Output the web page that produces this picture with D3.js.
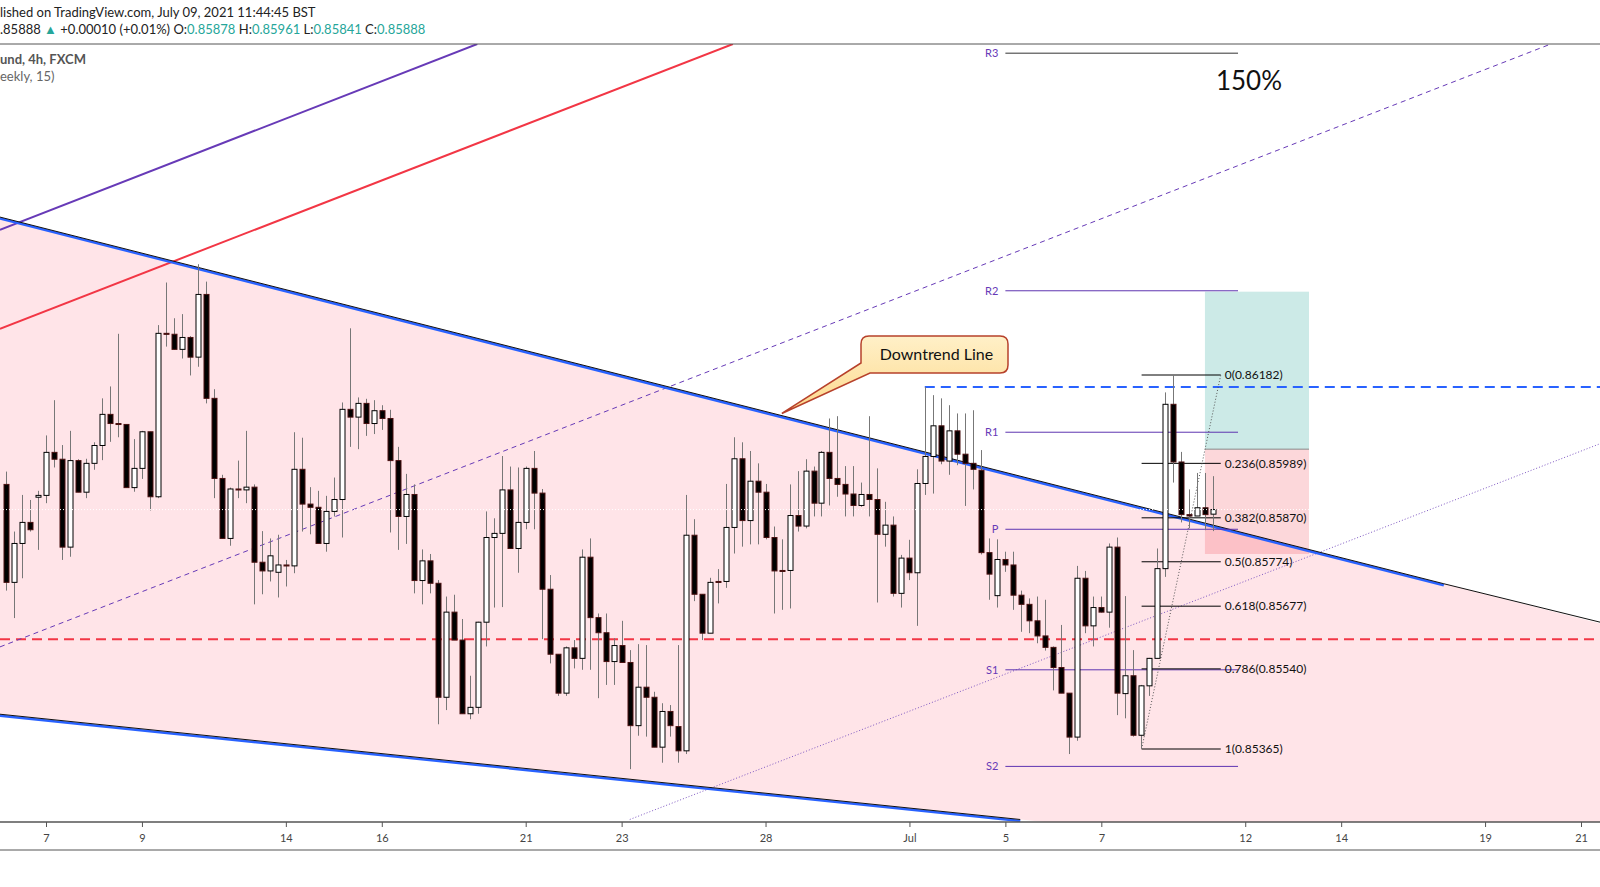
<!DOCTYPE html>
<html>
<head>
<meta charset="utf-8">
<script src="https://cdn.jsdelivr.net/npm/d3@7"></script>
<style>
  html, body { margin: 0; padding: 0; background: #fff; }
  svg { display: block; font-family: Lato, "Liberation Sans", sans-serif; }
</style>
</head>
<body>
<div id="chart"></div>
<script>
// 4h bars, [open, high, low, close]; first 5 bars are Jun 4 (Fri)
const bars = [
  [.85943,.85971,.85711,.85729],[.85729,.85840,.85651,.85814],[.85814,.85920,.85738,.85860],[.85860,.85909,.85840,.85844],
  [.85915,.85929,.85800,.85919],[.85919,.86050,.85902,.86013],[.86013,.86127,.85980,.85998],[.85998,.86029,.85778,.85806],
  [.85806,.86060,.85785,.85995],[.85995,.85998,.85926,.85926],[.85926,.85999,.85913,.85989],[.85989,.86035,.85975,.86028],
  [.86028,.86131,.85996,.86096],[.86096,.86157,.86036,.86076],[.86076,.86272,.86046,.86074],[.86074,.86074,.85936,.85936],
  [.85936,.86042,.85927,.85978],[.85978,.86060,.85955,.86058],[.86058,.86058,.85886,.85916],[.85916,.86291,.85913,.86273],
  [.86273,.86384,.86244,.86271],[.86271,.86306,.86237,.86238],[.86238,.86315,.86218,.86264],[.86264,.86267,.86181,.86221],
  [.86221,.86424,.86200,.86358],[.86358,.86386,.86120,.86131],[.86131,.86151,.85913,.85956],[.85956,.85964,.85825,.85825],
  [.85825,.85936,.85809,.85933],[.85933,.85995,.85913,.85931],[.85931,.86060,.85902,.85937],[.85937,.85943,.85681,.85773],
  [.85773,.85841,.85703,.85754],[.85754,.85825,.85731,.85787],[.85751,.85833,.85696,.85767],[.85767,.85778,.85720,.85765],
  [.85765,.86057,.85749,.85976],[.85976,.86045,.85840,.85900],[.85900,.85937,.85834,.85893],[.85893,.85929,.85814,.85814],
  [.85814,.85918,.85796,.85884],[.85884,.85958,.85873,.85910],[.85910,.86122,.85827,.86107],[.86107,.86284,.86025,.86090],
  [.86090,.86133,.86020,.86120],[.86120,.86130,.86049,.86076],[.86076,.86127,.86053,.86104],[.86104,.86116,.86062,.86087],
  [.86087,.86106,.85838,.85995],[.85995,.86025,.85800,.85873],[.85873,.85966,.85813,.85921],[.85921,.85943,.85705,.85733],
  [.85733,.85801,.85681,.85776],[.85776,.85791,.85705,.85727],[.85727,.85734,.85419,.85478],[.85478,.85698,.85450,.85664],
  [.85664,.85702,.85603,.85603],[.85603,.85649,.85442,.85442],[.85442,.85525,.85430,.85456],[.85456,.85643,.85442,.85642],
  [.85642,.85884,.85589,.85827],[.85827,.85869,.85674,.85836],[.85836,.86005,.85675,.85931],[.85931,.85982,.85803,.85803],
  [.85803,.85980,.85750,.85860],[.85860,.85982,.85845,.85978],[.85978,.86016,.85845,.85924],[.85924,.85933,.85605,.85714],
  [.85714,.85745,.85552,.85572],[.85572,.85572,.85481,.85487],[.85487,.85589,.85481,.85586],[.85586,.85603,.85541,.85563],
  [.85563,.85801,.85538,.85784],[.85784,.85825,.85538,.85652],[.85652,.85661,.85476,.85619],[.85619,.85661,.85505,.85556],
  [.85556,.85607,.85505,.85591],[.85591,.85645,.85554,.85554],[.85554,.85581,.85321,.85416],[.85416,.85594,.85394,.85500],
  [.85500,.85592,.85392,.85478],[.85478,.85490,.85369,.85369],[.85369,.85465,.85335,.85447],[.85447,.85461,.85392,.85416],
  [.85414,.85592,.85335,.85361],[.85361,.85920,.85354,.85832],[.85832,.85867,.85688,.85703],[.85703,.85703,.85603,.85618],
  [.85618,.85739,.85618,.85729],[.85731,.85758,.85683,.85729],[.85731,.85944,.85717,.85849],[.85849,.86046,.85792,.85999],
  [.85999,.86035,.85807,.85864],[.85864,.86016,.85812,.85950],[.85950,.85989,.85812,.85926],[.85926,.85944,.85823,.85827],
  [.85827,.85851,.85661,.85754],[.85755,.85823,.85669,.85753],[.85755,.85943,.85672,.85875],[.85875,.85972,.85840,.85852],
  [.85852,.85998,.85847,.85972],[.85972,.85982,.85873,.85902],[.85902,.86016,.85873,.86013],[.86013,.86087,.85897,.85956],
  [.85956,.86092,.85916,.85943],[.85943,.85983,.85873,.85922],[.85922,.85983,.85873,.85897],[.85897,.85947,.85894,.85921],
  [.85921,.86092,.85873,.85910],[.85910,.85978,.85685,.85834],[.85834,.85905,.85807,.85854],[.85854,.85873,.85698,.85705],
  [.85705,.85789,.85674,.85782],[.85782,.85822,.85734,.85750],[.85750,.85976,.85634,.85945],[.85945,.86156,.85920,.86004],
  [.86004,.86138,.85923,.86071],[.86071,.86131,.85987,.85994],[.85994,.86116,.85964,.86060],[.86060,.86098,.85985,.86009],
  [.86009,.86098,.85896,.85989],[.85989,.86105,.85932,.85976],[.85974,.86018,.85790,.85794],[.85794,.85825,.85691,.85747],
  [.85700,.85823,.85674,.85779],[.85779,.85796,.85752,.85767],[.85767,.85796,.85669,.85701],[.85701,.85711,.85621,.85681],
  [.85681,.85694,.85618,.85645],[.85645,.85698,.85596,.85612],[.85612,.85691,.85580,.85587],[.85587,.85589,.85493,.85543],
  [.85543,.85636,.85487,.85487],[.85487,.85487,.85354,.85391],[.85391,.85765,.85383,.85738],[.85738,.85754,.85618,.85634],
  [.85634,.85698,.85589,.85674],[.85674,.85698,.85663,.85664],[.85664,.85814,.85630,.85806],[.85806,.85827,.85439,.85487],
  [.85486,.85699,.85432,.85525],[.85525,.85581,.85392,.85395],[.85395,.85505,.85365,.85503],[.85503,.85564,.85481,.85563],
  [.85563,.85803,.85563,.85759],[.85759,.86144,.85741,.86118],[.86118,.86182,.85947,.85992],[.85992,.86014,.85860,.85877],
  [.85877,.85932,.85847,.85874],[.85874,.85968,.85874,.85892],[.85892,.85968,.85843,.85877],[.85878,.85961,.85841,.85888]
];
const barsBeforeFirstTick = 5;
const barsPerDay = 6;

// x axis: trading-day index from Jun 7
const tickDays = [0, 2, 5, 7, 10, 12, 15, 18, 20, 22, 25, 27, 30, 32];
const tickLabels = ['7', '9', '14', '16', '21', '23', '28', 'Jul', '5', '7', '12', '14', '19', '21'];

// drawings: [day, price] pairs
const channelTop = [[-0.96, .86527], [29.14, .85726]];
const channelTopExt = [[29.14, .85726], [32.4, .85642]];
const channelBottom = [[-0.96, .85441], [20.31, .85211]];
const purpleLine = [[-0.96, .86499], [8.99, .86905]];
const redLine = [[-0.96, .86283], [14.32, .86905]];
const purpleDashed = [[-0.96, .85588], [31.37, .86905]];
const purpleDotted = [[12.17, .85211], [32.4, .86032]];
const redLevel = .85605;
const blueLevel = { from: 18.32, price: .86156 };
const lastPrice = .85888;

const pivotNames = ['R3', 'R2', 'R1', 'P', 'S1', 'S2'];
const pivotPrices = [.86885, .86366, .86057, .85845, .85538, .85327];
const pivotSpan = [20, 24.85];

const fibRatios = [0, 0.236, 0.382, 0.5, 0.618, 0.786, 1];
const fibPrices = [.86182, .85989, .85870, .85774, .85677, .85540, .85365];
const fibSpan = [22.84, 24.49];

const position = { from: 24.16, to: 26.33, target: .86364, entry: .86020, stop: .85791 };
const callout = { day: 15.34, price: .86098, text: 'Downtrend Line' };

const W = 1600, H = 887;
const paneTop = 44, paneBottom = 822;

const x = d3.scaleLinear().domain([0, 32]).range([46, 1581]);
const y = d3.scaleLinear().domain([.85365, .86182]).range([749, 375]);
const barDay = i => (i - barsBeforeFirstTick) / barsPerDay;

const svg = d3.select('#chart').append('svg').attr('width', W).attr('height', H);
svg.append('defs').append('clipPath').attr('id', 'pane')
  .append('rect').attr('x', 0).attr('y', paneTop).attr('width', W).attr('height', paneBottom - paneTop);
const grad = svg.select('defs').append('linearGradient').attr('id', 'cg').attr('x1', 0).attr('x2', 0).attr('y1', 0).attr('y2', 1);
grad.append('stop').attr('offset', '0%').attr('stop-color', '#fff0c8');
grad.append('stop').attr('offset', '100%').attr('stop-color', '#fdd98c');

const pane = svg.append('g').attr('clip-path', 'url(#pane)');
const pt = p => [x(p[0]), y(p[1])];
const line = d3.line().x(d => x(d[0])).y(d => y(d[1]));

// pink wedge
const slope = (a, b) => (b[1] - a[1]) / (b[0] - a[0]);
const sTop = slope(channelTop[0], channelTop[1]);
const sBot = slope(channelBottom[0], channelBottom[1]);
const dR = 34;
const wedge = [
  channelTop[0],
  [dR, channelTop[0][1] + sTop * (dR - channelTop[0][0])],
  [dR, channelBottom[0][1] + sBot * (dR - channelBottom[0][0])],
  channelBottom[0]
];
pane.append('path').attr('d', line(wedge) + 'Z').attr('fill', '#ffe4e8');

// long position box
pane.append('rect').attr('x', x(position.from)).attr('width', x(position.to) - x(position.from))
  .attr('y', y(position.target)).attr('height', y(position.entry) - y(position.target))
  .attr('fill', 'rgba(0,150,136,0.2)');
pane.append('rect').attr('x', x(position.from)).attr('width', x(position.to) - x(position.from))
  .attr('y', y(position.entry)).attr('height', y(position.stop) - y(position.entry))
  .attr('fill', 'rgba(242,54,69,0.2)');
pane.append('line').attr('x1', x(position.from)).attr('x2', x(position.to))
  .attr('y1', y(position.entry)).attr('y2', y(position.entry)).attr('stroke', '#8a8a8a');

// horizontal levels
pane.append('line').attr('x1', 0).attr('x2', W).attr('y1', y(redLevel)).attr('y2', y(redLevel))
  .attr('stroke', '#f23645').attr('stroke-width', 2).attr('stroke-dasharray', '10,6');
pane.append('line').attr('x1', x(blueLevel.from)).attr('x2', W).attr('y1', y(blueLevel.price)).attr('y2', y(blueLevel.price))
  .attr('stroke', '#2962ff').attr('stroke-width', 2).attr('stroke-dasharray', '10,6');

// trend lines
pane.append('path').attr('d', line(purpleDashed)).attr('stroke', '#673ab7').attr('stroke-dasharray', '5,4').attr('fill', 'none');
pane.append('path').attr('d', line(purpleDotted)).attr('stroke', '#7e57c2').attr('stroke-dasharray', '1,2').attr('fill', 'none');
pane.append('path').attr('d', line(purpleLine)).attr('stroke', '#673ab7').attr('stroke-width', 2).attr('fill', 'none');
pane.append('path').attr('d', line(redLine)).attr('stroke', '#f23645').attr('stroke-width', 2).attr('fill', 'none');
[channelTop, channelBottom].forEach(seg => {
  pane.append('path').attr('d', line(seg)).attr('stroke', '#2962ff').attr('stroke-width', 2.5)
    .attr('fill', 'none').attr('transform', 'translate(0,1.5)');
  pane.append('path').attr('d', line(seg)).attr('stroke', '#111').attr('stroke-width', 1).attr('fill', 'none');
});
pane.append('path').attr('d', line(channelTopExt)).attr('stroke', '#111').attr('stroke-width', 1).attr('fill', 'none');

// pivots
const piv = pane.append('g');
pivotPrices.forEach((p, i) => {
  piv.append('line').attr('x1', x(pivotSpan[0])).attr('x2', x(pivotSpan[1])).attr('y1', y(p)).attr('y2', y(p))
    .attr('stroke', i === 0 ? '#333' : '#5e35b1');
  piv.append('text').attr('x', x(pivotSpan[0]) - 7).attr('y', y(p)).attr('dy', '0.35em')
    .attr('text-anchor', 'end').attr('font-size', 11).attr('fill', '#673ab7').text(pivotNames[i]);
});

// fib retracement
const fib = pane.append('g');
fibPrices.forEach((p, i) => {
  fib.append('line').attr('x1', x(fibSpan[0])).attr('x2', x(fibSpan[1])).attr('y1', y(p)).attr('y2', y(p)).attr('stroke', '#000');
  fib.append('text').attr('x', x(fibSpan[1]) + 4).attr('y', y(p)).attr('dy', '0.35em')
    .attr('font-size', 12).attr('fill', '#111').text(`${fibRatios[i]}(${p.toFixed(5)})`);
});
fib.append('path').attr('d', line([[fibSpan[0], fibPrices[6]], [fibSpan[1], fibPrices[0]]]))
  .attr('stroke', '#555').attr('stroke-dasharray', '1,2').attr('fill', 'none');

// candles
const cg = pane.append('g');
bars.forEach((b, i) => {
  const [o, h, l, c] = b;
  const cx = Math.round(x(barDay(i))) + 0.5;
  const up = c >= o;
  cg.append('line').attr('x1', cx).attr('x2', cx).attr('y1', y(h)).attr('y2', y(l)).attr('stroke', '#777');
  const top = y(Math.max(o, c)), bot = y(Math.min(o, c));
  cg.append('rect').attr('x', cx - 2.5).attr('width', 5).attr('y', top).attr('height', Math.max(1, bot - top))
    .attr('fill', up ? '#fff' : '#000').attr('stroke', up ? '#000' : '#4a1010').attr('stroke-width', 1);
});

// last price dotted line
pane.append('line').attr('x1', 0).attr('x2', W).attr('y1', y(lastPrice)).attr('y2', y(lastPrice))
  .attr('stroke', '#fff').attr('stroke-dasharray', '1,2');

// callout
const [tx, ty] = pt([callout.day, callout.price]);
const bx = 861, by = 336, bw = 147, bh = 37, r = 8;
const cp = d3.path();
cp.moveTo(bx + r, by); cp.lineTo(bx + bw - r, by); cp.quadraticCurveTo(bx + bw, by, bx + bw, by + r);
cp.lineTo(bx + bw, by + bh - r); cp.quadraticCurveTo(bx + bw, by + bh, bx + bw - r, by + bh);
cp.lineTo(bx + 9, by + bh); cp.lineTo(tx, ty); cp.lineTo(bx, by + bh - 10);
cp.lineTo(bx, by + r); cp.quadraticCurveTo(bx, by, bx + r, by); cp.closePath();
svg.append('path').attr('d', cp.toString()).attr('fill', 'url(#cg)').attr('stroke', '#b7412b').attr('stroke-width', 1.5);
svg.append('text').attr('x', bx + bw / 2 + 2).attr('y', by + bh / 2).attr('dy', '0.35em').attr('text-anchor', 'middle')
  .attr('font-size', 16).attr('fill', '#111').text(callout.text);

svg.append('text').attr('x', 1249).attr('y', 90).attr('text-anchor', 'middle').attr('font-size', 26).attr('fill', '#111').text('150%');

// borders and x axis
svg.append('line').attr('x1', 0).attr('x2', W).attr('y1', paneTop).attr('y2', paneTop).attr('stroke', '#555');
svg.append('line').attr('x1', 0).attr('x2', W).attr('y1', 850).attr('y2', 850).attr('stroke', '#555');
const xAxis = d3.axisBottom(x).tickValues(tickDays).tickFormat((d, i) => tickLabels[i]).tickSize(5).tickSizeOuter(0);
const ax = svg.append('g').attr('transform', `translate(0,${paneBottom})`).call(xAxis);
ax.select('.domain').attr('stroke', '#555').attr('stroke-width', 1.5).attr('d', `M0,0H${W}`);
ax.selectAll('.tick line').attr('stroke', '#555');
ax.selectAll('.tick text').attr('font-size', 11).attr('fill', '#444').attr('font-family', 'Lato, sans-serif').attr('dy', '1.1em');

// header
svg.append('text').attr('x', 0).attr('y', 17).attr('font-size', 13).attr('fill', '#222')
  .text('lished on TradingView.com, July 09, 2021 11:44:45 BST');
const teal = '#26a69a';
const hdr = svg.append('text').attr('x', 0).attr('y', 34).attr('font-size', 13).attr('fill', '#222');
[['.85888 ', '#222'], ['▲', teal], [' +0.00010 (+0.01%) ', '#222'], ['O:', '#222'], ['0.85878', teal], [' H:', '#222'], ['0.85961', teal],
 [' L:', '#222'], ['0.85841', teal], [' C:', '#222'], ['0.85888', teal]].forEach(([t, c]) => hdr.append('tspan').attr('fill', c).text(t));
svg.append('text').attr('x', 0).attr('y', 64).attr('font-size', 13).attr('font-weight', 'bold').attr('fill', '#555').text('und, 4h, FXCM');
svg.append('text').attr('x', 0).attr('y', 81).attr('font-size', 13).attr('fill', '#666').text('eekly, 15)');
</script>
</body>
</html>
